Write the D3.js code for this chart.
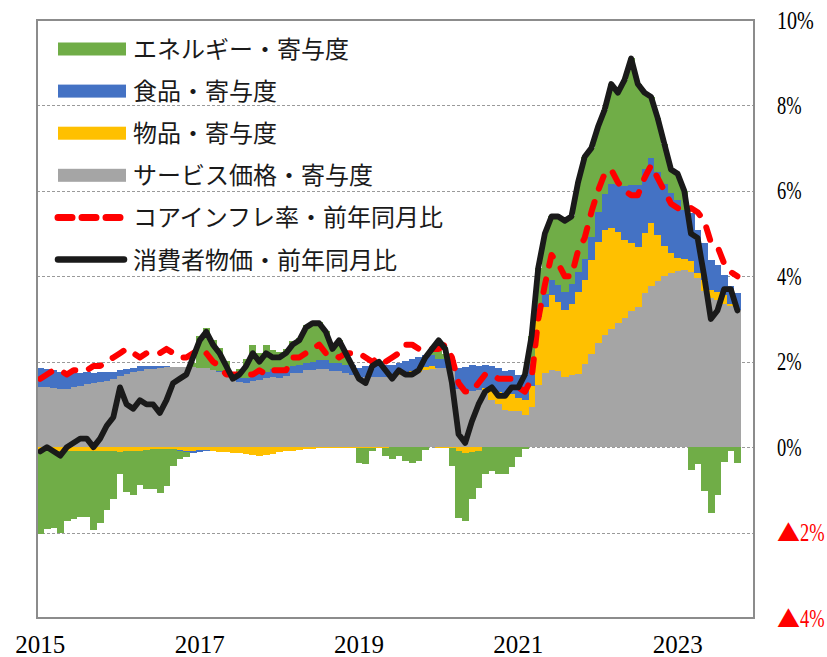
<!DOCTYPE html>
<html><head><meta charset="utf-8">
<script src="https://cdn.jsdelivr.net/npm/d3@7/dist/d3.min.js"></script>
<style>body{margin:0;background:#fff}svg{display:block}</style>
</head><body><svg id="c" width="827" height="657"></svg>
<script>
// ---- data (monthly, Jan 2015 - Oct 2023; axis runs to Dec 2023) ----
const startYear = 2015;
const axisMonthCount = 108;
const xTickLabels = ["2015", "2017", "2019", "2021", "2023"];
const yTicks = [10, 8, 6, 4, 2, 0, -2, -4];
const yTickLabels = ["10%", "8%", "6%", "4%", "2%", "0%", "▲2%", "▲4%"];
const barKeys = ["services", "goods", "food", "energy"];
const barNames = ["サービス価格・寄与度", "物品・寄与度", "食品・寄与度", "エネルギー・寄与度"];
const lineNames = ["コアインフレ率・前年同月比", "消費者物価・前年同月比"];

const services = [
  1.41, 1.40, 1.38, 1.37, 1.37, 1.40, 1.44, 1.48, 1.50, 1.53, 1.56, 1.60,
  1.66, 1.71, 1.75, 1.79, 1.82, 1.84, 1.86, 1.87, 1.88, 1.88, 1.88, 1.87,
  1.86, 1.85, 1.80, 1.76, 1.66, 1.57, 1.52, 1.51, 1.55, 1.58, 1.61, 1.65,
  1.62, 1.66, 1.73, 1.74, 1.80, 1.80, 1.84, 1.84, 1.78, 1.78, 1.73, 1.70,
  1.63, 1.64, 1.65, 1.65, 1.65, 1.66, 1.68, 1.70, 1.72, 1.76, 1.80, 1.84,
  1.86, 1.86, 1.80, 1.35, 1.32, 1.32, 1.33, 1.33, 1.10, 1.00, 0.88, 0.85,
  0.85, 0.76, 0.94, 1.45, 1.73, 1.80, 1.78, 1.64, 1.70, 1.72, 1.95, 2.19,
  2.43, 2.62, 2.76, 2.90, 3.02, 3.18, 3.27, 3.60, 3.78, 3.88, 4.00, 4.07,
  4.12, 4.15, 4.10, 3.95, 3.65, 3.50, 3.45, 3.35, 3.30, 3.20
];
const goods = [
  -0.06, -0.06, -0.07, -0.08, -0.08, -0.09, -0.10, -0.10, -0.10, -0.10, -0.10, -0.10,
  -0.12, -0.10, -0.08, -0.08, -0.06, -0.05, -0.05, -0.05, -0.05, -0.07, -0.08, -0.08,
  -0.07, -0.07, -0.09, -0.11, -0.12, -0.13, -0.14, -0.17, -0.19, -0.20, -0.19, -0.17,
  -0.12, -0.10, -0.08, -0.06, -0.05, -0.04, -0.03, -0.02, -0.02, -0.01, -0.01, -0.02,
  -0.02, -0.03, -0.03, -0.02, -0.01, 0.00, 0.03, 0.05, 0.07, 0.08, 0.07, 0.05,
  -0.02, -0.02, -0.02, -0.10, -0.14, -0.12, -0.08, 0.05, 0.25, 0.30, 0.35, 0.40,
  0.30, 0.35, 0.50, 1.60, 1.56, 1.76, 1.62, 1.57, 1.66, 1.92, 1.96, 2.18,
  2.38, 2.46, 2.36, 2.14, 1.84, 1.59, 1.42, 1.42, 1.47, 1.08, 0.71, 0.47,
  0.30, 0.25, 0.26, 0.12, 0.26, 0.18, 0.19, 0.21, 0.06, 0.02
];
const food = [
  0.45, 0.44, 0.42, 0.38, 0.36, 0.33, 0.30, 0.27, 0.24, 0.22, 0.20, 0.17,
  0.14, 0.12, 0.11, 0.10, 0.09, 0.06, 0.04, 0.02, 0.00, -0.02, -0.04, -0.05,
  -0.04, -0.03, -0.01, 0.03, 0.06, 0.09, 0.10, 0.11, 0.12, 0.14, 0.15, 0.17,
  0.19, 0.19, 0.18, 0.18, 0.18, 0.19, 0.19, 0.19, 0.19, 0.20, 0.20, 0.22,
  0.22, 0.25, 0.27, 0.27, 0.27, 0.27, 0.27, 0.27, 0.27, 0.28, 0.29, 0.27,
  0.20, 0.20, 0.25, 0.50, 0.55, 0.60, 0.57, 0.55, 0.55, 0.55, 0.55, 0.55,
  0.55, 0.58, 0.50, 0.28, 0.30, 0.35, 0.40, 0.42, 0.45, 0.47, 0.50, 0.55,
  0.70, 0.85, 1.05, 1.10, 1.25, 1.36, 1.45, 1.50, 1.51, 1.48, 1.45, 1.42,
  1.36, 1.15, 1.11, 1.01, 0.86, 0.70, 0.62, 0.47, 0.42, 0.39
];
const energy = [
  -1.97, -1.86, -1.83, -1.92, -1.65, -1.60, -1.54, -1.53, -1.83, -1.68, -1.36, -1.11,
  -0.52, -0.94, -1.05, -0.80, -0.92, -0.92, -1.02, -0.85, -0.40, -0.19, -0.10, 0.10,
  0.75, 0.95, 0.70, 0.52, 0.30, 0.07, 0.22, 0.45, 0.72, 0.48, 0.63, 0.45,
  0.41, 0.45, 0.57, 0.64, 0.87, 0.95, 0.90, 0.69, 0.35, 0.53, 0.28, 0.00,
  -0.36, -0.36, -0.05, 0.10, -0.20, -0.27, -0.20, -0.32, -0.36, -0.32, -0.06, 0.14,
  0.20, 0.12, -0.42, -1.55, -1.60, -1.10, -0.88, -0.63, -0.56, -0.64, -0.62, -0.46,
  -0.23, -0.05, 0.66, 0.87, 1.41, 1.49, 1.60, 1.67, 1.59, 2.09, 2.39, 2.08,
  1.99, 1.97, 2.33, 2.16, 2.49, 2.97, 2.36, 1.78, 1.44, 1.26, 0.94, 0.54,
  0.62, 0.45, -0.53, -0.40, -1.03, -1.55, -1.12, -0.34, -0.08, -0.38
];
const coreInflation = [
  1.6, 1.7, 1.8, 1.8, 1.7, 1.8, 1.8, 1.8, 1.9, 1.9, 2.0, 2.1,
  2.2, 2.3, 2.2, 2.1, 2.2, 2.2, 2.2, 2.3, 2.2, 2.1, 2.1, 2.2,
  2.3, 2.2, 2.0, 1.9, 1.7, 1.7, 1.7, 1.7, 1.7, 1.8, 1.7, 1.8,
  1.8, 1.8, 2.1, 2.1, 2.2, 2.3, 2.4, 2.2, 2.2, 2.1, 2.2, 2.2,
  2.2, 2.1, 2.0, 2.1, 2.0, 2.1, 2.2, 2.4, 2.4, 2.3, 2.3, 2.3,
  2.3, 2.4, 2.1, 1.5, 1.3, 1.3, 1.5, 1.7, 1.7, 1.6, 1.6, 1.6,
  1.4, 1.3, 1.6, 3.0, 3.8, 4.5, 4.3, 4.0, 4.0, 4.6, 4.9, 5.5,
  6.0, 6.4, 6.5, 6.2, 6.0, 5.9, 5.9, 6.3, 6.6, 6.3, 6.0, 5.7,
  5.6, 5.5, 5.6, 5.5, 5.3, 4.8, 4.7, 4.3, 4.1, 4.0
];
const cpi = [
  -0.1, 0.0, -0.1, -0.2, 0.0, 0.1, 0.2, 0.2, 0.0, 0.2, 0.5, 0.7,
  1.4, 1.0, 0.9, 1.1, 1.0, 1.0, 0.8, 1.1, 1.5, 1.6, 1.7, 2.1,
  2.5, 2.7, 2.4, 2.2, 1.9, 1.6, 1.7, 1.9, 2.2, 2.0, 2.2, 2.1,
  2.1, 2.2, 2.4, 2.5, 2.8, 2.9, 2.9, 2.7, 2.3, 2.5, 2.2, 1.9,
  1.6, 1.5, 1.9, 2.0, 1.8, 1.6, 1.8, 1.7, 1.7, 1.8, 2.1, 2.3,
  2.5, 2.3, 1.5, 0.3, 0.1, 0.6, 1.0, 1.3, 1.4, 1.2, 1.2, 1.4,
  1.4, 1.7, 2.6, 4.2, 5.0, 5.4, 5.4, 5.3, 5.4, 6.2, 6.8, 7.0,
  7.5, 7.9, 8.5, 8.3, 8.6, 9.1, 8.5, 8.3, 8.2, 7.7, 7.1, 6.5,
  6.4, 6.0, 5.0, 4.9, 4.0, 3.0, 3.2, 3.7, 3.7, 3.2
];

// ---- build ----
const colors = {services: "#A5A5A5", goods: "#FFC000", food: "#4472C4", energy: "#70AD47"};
const monthKeys = d3.range(axisMonthCount).map(i => `${startYear + Math.floor(i / 12)}-${String(i % 12 + 1).padStart(2, "0")}`);
const rows = services.map((v, i) => ({key: monthKeys[i], services: v, goods: goods[i], food: food[i], energy: energy[i]}));

const svg = d3.select("#c");
const L = 37, R = 754, T = 20, B = 618;
const x = d3.scaleBand().domain(monthKeys).range([L, R]).padding(0);
const y = d3.scaleLinear().domain([-4, 10]).range([B, T]);
const cx = k => x(k) + x.bandwidth() / 2;

svg.append("rect").attr("width", 827).attr("height", 657).attr("fill", "#fff");

// grid lines
svg.append("g").selectAll("line").data(yTicks.filter(t => t > -4 && t < 10)).join("line")
  .attr("x1", L).attr("x2", R).attr("y1", d => Math.round(y(d)) + 0.5).attr("y2", d => Math.round(y(d)) + 0.5)
  .attr("stroke", "#9a9a9a").attr("stroke-width", 1).attr("stroke-dasharray", "3,2");

// stacked bars
const stack = d3.stack().keys(barKeys).offset(d3.stackOffsetDiverging)(rows);
svg.append("g").selectAll("g").data(stack).join("g")
  .attr("fill", d => colors[d.key])
  .selectAll("rect").data(d => d).join("rect")
  .attr("shape-rendering", "crispEdges")
  .attr("x", d => x(d.data.key)).attr("width", x.bandwidth() + 0.4)
  .attr("y", d => y(Math.max(d[0], d[1]))).attr("height", d => Math.abs(y(d[0]) - y(d[1])));

// lines
const line = d3.line().x((d, i) => cx(monthKeys[i])).y(d => y(d));
svg.append("path").datum(coreInflation).attr("d", line).attr("fill", "none")
  .attr("stroke", "#FF0000").attr("stroke-width", 6).attr("stroke-dasharray", "13,14")
  .attr("stroke-linecap", "round").attr("stroke-linejoin", "round");
svg.append("path").datum(cpi).attr("d", line).attr("fill", "none")
  .attr("stroke", "#1a1a1a").attr("stroke-width", 5.8)
  .attr("stroke-linecap", "round").attr("stroke-linejoin", "round");

// plot border
svg.append("rect").attr("x", L).attr("y", T).attr("width", R - L).attr("height", B - T)
  .attr("fill", "none").attr("stroke", "#8c8c8c").attr("stroke-width", 2);

// right axis labels (positions from the y scale), narrowed with a horizontal scale
const serif = "'Liberation Serif', 'DejaVu Serif', serif";
const gy = svg.append("g");
yTicks.forEach((t, i) => {
  const lbl = yTickLabels[i];
  const neg = lbl.startsWith("▲");
  const num = neg ? lbl.slice(1) : lbl;
  const yy = y(t) + 8.5;
  const col = neg ? "#FF0000" : "#000";
  let xx = 777;
  if (neg) {
    gy.append("text").attr("x", 777).attr("y", yy).attr("fill", col)
      .attr("font-family", "'Noto Sans CJK JP', 'DejaVu Sans', sans-serif").attr("font-size", 23)
      .text("▲");
    xx = 800;
  }
  const tx = gy.append("text").attr("x", 0).attr("y", 0).attr("fill", col)
    .attr("font-family", serif).attr("font-size", 25).text(num);
  const natural = tx.node().getComputedTextLength();
  const target = num.length * 12.3;
  tx.attr("transform", `translate(${xx},${yy}) scale(${Math.min(1, target / natural)},1)`);
});

// bottom axis labels
const xTickKeys = xTickLabels.map(lbl => `${lbl}-01`);
const xAxis = d3.axisBottom(x).tickValues(xTickKeys).tickSize(0).tickPadding(0)
  .tickFormat((d, i) => xTickLabels[i]);
const gx = svg.append("g").attr("transform", "translate(0,636)").call(xAxis);
gx.select(".domain").remove();
gx.selectAll("text").attr("font-family", serif)
  .attr("font-size", 25).attr("fill", "#000").attr("dy", "0.68em");

// legend
const legendItems = [
  {name: barNames[3], type: "bar", color: colors.energy},
  {name: barNames[2], type: "bar", color: colors.food},
  {name: barNames[1], type: "bar", color: colors.goods},
  {name: barNames[0], type: "bar", color: colors.services},
  {name: lineNames[0], type: "dash", color: "#FF0000"},
  {name: lineNames[1], type: "line", color: "#1a1a1a"}
];
const lg = svg.append("g");
legendItems.forEach((it, i) => {
  const cy = 49 + i * 42.1;
  if (it.type === "bar") {
    lg.append("rect").attr("x", 58).attr("y", cy - 6.5).attr("width", 68).attr("height", 13).attr("fill", it.color);
  } else {
    lg.append("line").attr("x1", 58).attr("x2", 124).attr("y1", cy).attr("y2", cy)
      .attr("stroke", it.color).attr("stroke-width", it.type === "dash" ? 7 : 6.5)
      .attr("stroke-linecap", "round")
      .attr("stroke-dasharray", it.type === "dash" ? "14,10" : null);
  }
  lg.append("text").attr("x", 133).attr("y", cy + 9)
    .attr("font-family", "'Noto Sans CJK JP', 'Noto Sans CJK SC', sans-serif")
    .attr("font-size", 24).attr("fill", "#1a1a1a").text(it.name);
});
</script></body></html>
